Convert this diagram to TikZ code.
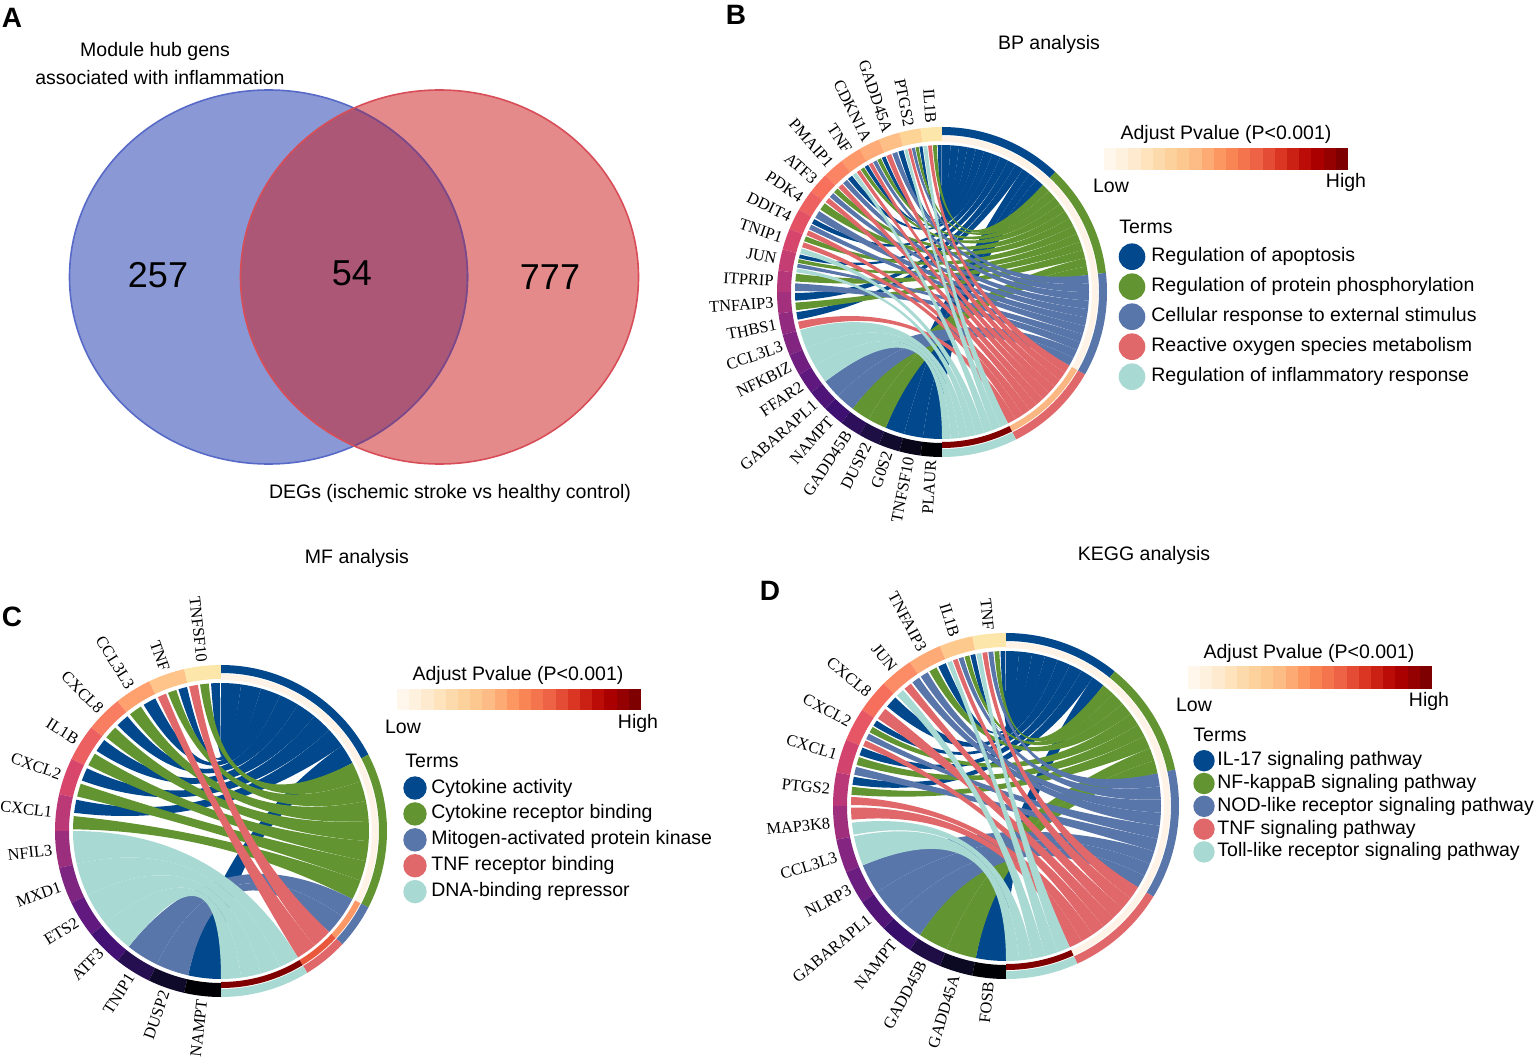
\documentclass[tikz,border=0pt]{standalone}
\usepackage{fontspec}
\setmainfont{Liberation Sans}
\newfontfamily\genefont{Liberation Serif}

\definecolor{tBlue}{RGB}{2,72,140}
\definecolor{tGreen}{RGB}{98,149,50}
\definecolor{tSlate}{RGB}{89,118,170}
\definecolor{tRed}{RGB}{224,104,106}
\definecolor{tTeal}{RGB}{168,218,211}
\colorlet{term1}{tBlue}
\colorlet{term2}{tGreen}
\colorlet{term3}{tSlate}
\colorlet{term4}{tRed}
\colorlet{term5}{tTeal}
\definecolor{pCream}{RGB}{254,243,230}
\definecolor{pPeach}{RGB}{251,182,130}
\definecolor{pOrange}{RGB}{252,152,102}
\definecolor{pOrRed}{RGB}{234,88,60}
\definecolor{pDark}{RGB}{128,0,0}
\definecolor{magma0}{HTML}{000004}
\definecolor{magma1}{HTML}{140E36}
\definecolor{magma2}{HTML}{3B0F70}
\definecolor{magma3}{HTML}{641A80}
\definecolor{magma4}{HTML}{8C2981}
\definecolor{magma5}{HTML}{B73779}
\definecolor{magma6}{HTML}{DE4968}
\definecolor{magma7}{HTML}{F7705C}
\definecolor{magma8}{HTML}{FE9F6D}
\definecolor{magma9}{HTML}{FECF92}
\definecolor{magma10}{HTML}{FCFDBF}
\definecolor{orrd0}{HTML}{FFF7EC}
\definecolor{orrd1}{HTML}{FEE8C8}
\definecolor{orrd2}{HTML}{FDD49E}
\definecolor{orrd3}{HTML}{FDBB84}
\definecolor{orrd4}{HTML}{FC8D59}
\definecolor{orrd5}{HTML}{EF6548}
\definecolor{orrd6}{HTML}{D7301F}
\definecolor{orrd7}{HTML}{B30000}
\definecolor{orrd8}{HTML}{7F0000}
\definecolor{vBlue}{RGB}{138,153,214}
\definecolor{vRed}{RGB}{229,138,139}
\definecolor{vOver}{RGB}{172,87,117}
\definecolor{vBlueEdge}{RGB}{88,106,200}
\definecolor{vRedEdge}{RGB}{216,78,88}
\definecolor{vInnerEdge}{RGB}{130,70,130}

\newcommand\lgfont{\fontsize{9.75}{11.7}\selectfont}
\newcommand\genesize{\fontsize{8.2}{10}\selectfont}

\newcommand\cdSet[2]{\expandafter\xdef\csname cd@#1\endcsname{#2}}
\newcommand\cdGet[1]{\csname cd@#1\endcsname}

% #1 R, #2 number of genes, #3 links g/t, #4 gene names ; prefix in \cdpre
\newcommand\ChordPlot[4]{%
  \pgfmathsetmacro\cdR{#1}%
  \pgfmathsetmacro\cdRi{#1-14}%
  \pgfmathsetmacro\cdRo{#1-8}%
  \pgfmathsetmacro\cdRp{#1-9}%
  \pgfmathsetmacro\cdRq{#1-15}%
  \pgfmathsetmacro\cdRl{#1+3.5}%
  \pgfmathsetmacro\cdr{#1-18}%
  \pgfmathsetmacro\cdrq{(#1-18)/3}%
  \pgfmathsetmacro\cdN{#2}%
  \pgfmathsetmacro\cdG{180/#2}%
  \foreach \cdi in {1,...,#2}{\cdSet{k\cdi}{0}\cdSet{u\cdi}{0}}%
  \foreach \cdi in {1,...,5}{\cdSet{n\cdi}{0}\cdSet{v\cdi}{0}}%
  \cdSet{L}{0}%
  \foreach \cdg/\cdt in {#3}{%
    \edef\cdx{\cdGet{k\cdg}}\pgfmathtruncatemacro\cdy{\cdx+1}\cdSet{k\cdg}{\cdy}%
    \edef\cdx{\cdGet{n\cdt}}\pgfmathtruncatemacro\cdy{\cdx+1}\cdSet{n\cdt}{\cdy}%
    \edef\cdx{\cdGet{L}}\pgfmathtruncatemacro\cdy{\cdx+1}\cdSet{L}{\cdy}%
  }%
  \edef\cdL{\cdGet{L}}%
  \gdef\cdacc{0}%
  \foreach \cdi in {1,...,5}{%
    \edef\cdn{\cdGet{n\cdi}}%
    \pgfmathsetmacro\cdy{90-\cdacc*180/\cdL}\cdSet{s\cdi}{\cdy}%
    \pgfmathtruncatemacro\cdy{\cdacc+\cdn}\xdef\cdacc{\cdy}%
  }%
  % gene ring and labels
  \foreach \cdname [count=\cdi] in {#4}{%
    \pgfmathsetmacro\aA{90+(\cdi-1)*\cdG}%
    \pgfmathsetmacro\aB{90+\cdi*\cdG}%
    \pgfmathsetmacro\aM{90+(\cdi-0.5)*\cdG}%
    \pgfmathsetmacro\ct{9.5*(\cdN-\cdi)/(\cdN-1)}%
    \pgfmathtruncatemacro\ci{floor(\ct)}%
    \pgfmathtruncatemacro\cj{min(\ci+1,10)}%
    \pgfmathtruncatemacro\cp{round((\ct-\ci)*100)}%
    \colorlet{cdgc}{magma\cj!\cp!magma\ci}%
    \fill[cdgc] (\aA:\cdR) arc[start angle=\aA,end angle=\aB,radius=\cdR] -- (\aB:\cdRi) arc[start angle=\aB,end angle=\aA,radius=\cdRi] -- cycle;
    \node[genelbl,rotate=\aM-180,anchor=east] (\cdpre-g\cdi) at (\aM:\cdRl) {\cdname};
  }%
  % term rings
  \foreach \cdi in {1,...,5}{%
    \edef\cds{\cdGet{s\cdi}}\edef\cdn{\cdGet{n\cdi}}%
    \pgfmathsetmacro\bB{\cds}%
    \pgfmathsetmacro\bA{\cds-\cdn*180/\cdL}%
    \fill[term\cdi] (\bA:\cdR) arc[start angle=\bA,end angle=\bB,radius=\cdR] -- (\bB:\cdRo) arc[start angle=\bB,end angle=\bA,radius=\cdRo] -- cycle;
    \fill[pc\cdi] (\bA:\cdRp) arc[start angle=\bA,end angle=\bB,radius=\cdRp] -- (\bB:\cdRq) arc[start angle=\bB,end angle=\bA,radius=\cdRq] -- cycle;
  }%
  % ribbons
  \foreach \cdtt in {1,...,5}{%
    \foreach \cdg/\cdt in {#3}{%
      \ifnum\cdt=\cdtt\relax
        \edef\cdK{\cdGet{k\cdg}}\edef\cdU{\cdGet{u\cdg}}%
        \edef\cdV{\cdGet{v\cdt}}\edef\cdS{\cdGet{s\cdt}}%
        \pgfmathsetmacro\cdslot{\cdG/\cdK}%
        \pgfmathsetmacro\cdins{ifthenelse(\cdK>1,0.1*\cdslot,0)}%
        \pgfmathsetmacro\aA{90+(\cdg-1)*\cdG+\cdU*\cdslot+\cdins}%
        \pgfmathsetmacro\aB{90+(\cdg-1)*\cdG+(\cdU+1)*\cdslot-\cdins}%
        \pgfmathsetmacro\bB{\cdS-\cdV*180/\cdL}%
        \pgfmathsetmacro\bA{\cdS-(\cdV+1)*180/\cdL}%
        \pgfmathtruncatemacro\cdy{\cdU+1}\cdSet{u\cdg}{\cdy}%
        \pgfmathtruncatemacro\cdy{\cdV+1}\cdSet{v\cdt}{\cdy}%
        \fill[term\cdt] (\aA:\cdr) arc[start angle=\aA,end angle=\aB,radius=\cdr]
          .. controls (\aB:\cdrq) and (\bA:\cdrq) .. (\bA:\cdr)
          arc[start angle=\bA,end angle=\bB,radius=\cdr]
          .. controls (\bB:\cdrq) and (\aA:\cdrq) .. (\aA:\cdr) -- cycle;
      \fi
    }%
  }%
}

% colour bar: x0 y0 x1 y1
\newcommand\ColorBar[4]{%
  \foreach \cbj in {0,...,19}{%
    \pgfmathsetmacro\ct{\cbj*8/19}%
    \pgfmathtruncatemacro\ci{min(floor(\ct),7)}%
    \pgfmathtruncatemacro\cj{\ci+1}%
    \pgfmathtruncatemacro\cp{round((\ct-\ci)*100)}%
    \colorlet{cbc}{orrd\cj!\cp!orrd\ci}%
    \pgfmathsetmacro\xa{#1+(#3-#1)*\cbj/20}%
    \pgfmathsetmacro\xb{#1+(#3-#1)*(\cbj+1)/20+ifthenelse(\cbj<19,0.4,0)}%
    \fill[cbc] (\xa,#2) rectangle (\xb,#4);
  }%
}

% legend: prefix, x circle, x text, y first, dy, circle size, names
\newcommand\TermLegend[7]{%
  \foreach \nm [count=\li] in {#7}{%
    \pgfmathsetmacro\ly{#4-(\li-1)*#5}%
    \node[circle,fill=term\li,minimum size=#6,inner sep=0pt] (#1-lc\li) at (#2,\ly) {};
    \node[lg,anchor=west] (#1-lt\li) at (#3,\ly) {\nm};
  }%
}

\begin{document}
\begin{tikzpicture}[x=0.5pt,y=0.5pt,
  lg/.style={font=\lgfont,inner sep=0pt},
  genelbl/.style={font=\genefont\genesize,inner sep=0pt},
  letter/.style={font=\fontsize{14}{16}\selectfont\bfseries,inner sep=0pt},
  bignum/.style={font=\fontsize{18}{20}\selectfont,inner sep=0pt}]
\useasboundingbox (0,0) rectangle (1536,1057);
\fill[white] (0,0) rectangle (1536,1057);

% ---------------- Panel A : Venn ----------------
\node[letter] (A-let) at (12,1039) {A};
\fill[vBlue] (268.5,780) ellipse[x radius=199,y radius=187];
\fill[vRed] (439.5,780) ellipse[x radius=199,y radius=187];
\begin{scope}
  \clip (268.5,780) ellipse[x radius=199,y radius=187];
  \fill[vOver] (439.5,780) ellipse[x radius=199,y radius=187];
\end{scope}
\draw[vBlueEdge,line width=0.8pt] (268.5,780) ellipse[x radius=199,y radius=187];
\begin{scope}
  \clip (439.5,780) ellipse[x radius=199,y radius=187];
  \draw[vInnerEdge,line width=0.8pt] (268.5,780) ellipse[x radius=199,y radius=187];
\end{scope}
\draw[vRedEdge,line width=0.8pt] (439.5,780) ellipse[x radius=199,y radius=187];
\node[lg] (A-t1) at (155,1006) {Module hub gens};
\node[lg] (A-t2) at (160,979) {associated with inflammation};
\node[bignum] (A-n1) at (158,782) {257};
\node[bignum] (A-n2) at (352,784) {54};
\node[bignum] (A-n3) at (550,780) {777};
\node[lg] (A-t3) at (450,564) {DEGs (ischemic stroke vs healthy control)};

% ---------------- Panel B ----------------
\node[letter] (B-let) at (736,1042) {B};
\node[lg] (B-title) at (1049,1013) {BP analysis};
\begin{scope}[shift={(942,765)}]
  \colorlet{pc1}{pCream}\colorlet{pc2}{pCream}\colorlet{pc3}{pCream}\colorlet{pc4}{pPeach}\colorlet{pc5}{pDark}
  \def\cdpre{B}
  \ChordPlot{165}{24}{1/1,1/2,1/4,1/5,2/1,2/2,2/3,2/4,2/5,3/1,3/3,3/4,4/1,4/2,4/3,4/4,5/1,5/2,5/4,5/5,6/1,6/3,6/4,7/2,7/3,7/4,8/2,8/3,9/1,9/3,9/4,10/2,10/4,10/5,11/1,11/2,11/3,11/5,12/2,12/3,13/1,13/2,14/1,14/4,15/5,16/5,17/5,18/3,19/3,20/2,21/2,22/1,23/1,24/1}{IL1B,PTGS2,GADD45A,CDKN1A,TNF,PMAIP1,ATF3,PDK4,DDIT4,TNIP1,JUN,ITPRIP,TNFAIP3,THBS1,CCL3L3,NFKBIZ,FFAR2,GABARAPL1,NAMPT,GADD45B,DUSP2,G0S2,TNFSF10,PLAUR}
\end{scope}
\ColorBar{1104}{887}{1348}{909}
\node[lg] (B-cbt) at (1226,923) {Adjust Pvalue (P<0.001)};
\node[lg] (B-low) at (1111,871) {Low};
\node[lg] (B-high) at (1346,875) {High};
\node[lg,anchor=west] (B-terms) at (1119,830) {Terms};
\TermLegend{B}{1132}{1151}{800.3}{30}{13.3pt}{Regulation of apoptosis,Regulation of protein phosphorylation,Cellular response to external stimulus,Reactive oxygen species metabolism,Regulation of inflammatory response}

% ---------------- Panel C ----------------
\node[letter] (C-let) at (12,440) {C};
\node[lg] (C-title) at (357,499) {MF analysis};
\begin{scope}[shift={(221,226)}]
  \colorlet{pc1}{pCream}\colorlet{pc2}{pCream}\colorlet{pc3}{pOrange}\colorlet{pc4}{pOrRed}\colorlet{pc5}{pDark}
  \def\cdpre{C}
  \ChordPlot{166}{14}{1/1,1/2,1/4,2/1,2/2,2/4,3/1,3/2,4/1,4/2,5/1,5/2,6/1,6/2,7/1,7/2,8/5,9/5,10/5,11/5,12/3,13/3,14/1}{TNFSF10,TNF,CCL3L3,CXCL8,IL1B,CXCL2,CXCL1,NFIL3,MXD1,ETS2,ATF3,TNIP1,DUSP2,NAMPT}
\end{scope}
\ColorBar{397}{347}{641}{368}
\node[lg] (C-cbt) at (518,382) {Adjust Pvalue (P<0.001)};
\node[lg] (C-low) at (403,330) {Low};
\node[lg] (C-high) at (638,334) {High};
\node[lg,anchor=west] (C-terms) at (405,296) {Terms};
\TermLegend{C}{415}{431}{269}{25.9}{11.7pt}{Cytokine activity,Cytokine receptor binding,Mitogen-activated protein kinase,TNF receptor binding,DNA-binding repressor}

% ---------------- Panel D ----------------
\node[letter] (D-let) at (770,466) {D};
\node[lg] (D-title) at (1144,502) {KEGG analysis};
\begin{scope}[shift={(1006,251)}]
  \colorlet{pc1}{pCream}\colorlet{pc2}{pCream}\colorlet{pc3}{pCream}\colorlet{pc4}{pCream}\colorlet{pc5}{pDark}
  \def\cdpre{D}
  \ChordPlot{173}{16}{1/1,1/2,1/3,1/4,1/5,2/1,2/2,2/3,2/4,2/5,3/1,3/2,3/3,4/3,4/4,4/5,5/1,5/4,6/1,6/2,6/3,6/4,7/1,7/2,7/3,8/1,8/2,8/4,9/4,9/5,10/5,11/3,12/3,13/3,14/2,15/2,16/1}{TNF,IL1B,TNFAIP3,JUN,CXCL8,CXCL2,CXCL1,PTGS2,MAP3K8,CCL3L3,NLRP3,GABARAPL1,NAMPT,GADD45B,GADD45A,FOSB}
\end{scope}
\ColorBar{1188}{368}{1432}{391}
\node[lg] (D-cbt) at (1309,404) {Adjust Pvalue (P<0.001)};
\node[lg] (D-low) at (1194,352) {Low};
\node[lg] (D-high) at (1429,356) {High};
\node[lg,anchor=west] (D-terms) at (1193,322) {Terms};
\TermLegend{D}{1204}{1217}{296.3}{22.8}{10.7pt}{IL-17 signaling pathway,NF-kappaB signaling pathway,NOD-like receptor signaling pathway,TNF signaling pathway,Toll-like receptor signaling pathway}
\end{tikzpicture}
\end{document}
